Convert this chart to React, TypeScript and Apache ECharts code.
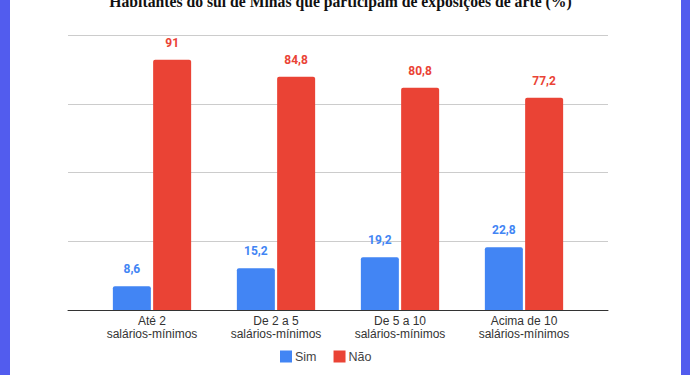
import React, { useEffect, useRef } from "react";
import * as echarts from "echarts";

const categories = ["Até 2\nsalários-mínimos", "De 2 a 5\nsalários-mínimos", "De 5 a 10\nsalários-mínimos", "Acima de 10\nsalários-mínimos"];
const simValues = [8.6, 15.2, 19.2, 22.8];
const naoValues = [91, 84.8, 80.8, 77.2];
const seriesNames = ["Sim", "Não"];
const titleText = "Habitantes do sul de Minas que participam de exposições de arte (%)";

const fmt = (v: number) => String(v).replace(".", ",");

export default function App() {
  const ref = useRef<HTMLDivElement>(null);
  useEffect(() => {
    if (!ref.current) return;
    const chart = echarts.init(ref.current, null, { renderer: "svg" });
    const labelFont = "Roboto, Arial, sans-serif";
    const axisFont = "Arial, 'Liberation Sans', sans-serif";
    chart.setOption({
      animation: false,
      backgroundColor: "#ffffff",
      title: {
        text: titleText,
        left: 335.5,
        textAlign: "center",
        top: -12,
        textStyle: { fontFamily: "'Liberation Serif', 'Times New Roman', serif", fontWeight: "bold", fontSize: 15.7, color: "#111" },
      },
      legend: {
        data: seriesNames,
        left: 275,
        top: 345,
        padding: 5,
        itemWidth: 12,
        itemHeight: 12,
        itemGap: 17,
        icon: "rect",
        textStyle: { fontFamily: axisFont, fontSize: 12.5, color: "#444", padding: [0, 0, 0, -2] },
      },
      graphic: [
        { type: "rect", left: 0, top: 0, shape: { width: 10, height: 375 }, style: { fill: "#525CEE" }, z: 100 },
        { type: "rect", left: 681, top: 0, shape: { width: 9, height: 375 }, style: { fill: "#525CEE" }, z: 100 },
      ],
      grid: [
        { left: 68, right: 82, top: 35, bottom: 65 },
        { left: 90, right: 104, top: 35, bottom: 65 },
      ],
      xAxis: [
        {
          gridIndex: 0,
          type: "category",
          data: categories,
          axisLine: { show: true, lineStyle: { color: "#333", width: 1 } },
          axisTick: { show: false },
          axisLabel: { show: false },
          splitLine: { show: false },
        },
        {
          gridIndex: 1,
          type: "category",
          data: categories,
          axisLine: { show: false },
          axisTick: { show: false },
          axisLabel: { fontFamily: axisFont, fontSize: 12, color: "#333", margin: 5, lineHeight: 12.5 },
        },
      ],
      yAxis: [
        {
          gridIndex: 0,
          type: "value",
          min: 0,
          max: 100,
          interval: 25,
          axisLabel: { show: false },
          axisLine: { show: false },
          axisTick: { show: false },
          splitLine: { lineStyle: { color: "#cccccc", width: 1 } },
        },
        {
          gridIndex: 1,
          type: "value",
          min: 0,
          max: 100,
          interval: 25,
          axisLabel: { show: false },
          axisLine: { show: false },
          axisTick: { show: false },
          splitLine: { show: false },
        },
      ],
      series: [
        {
          name: seriesNames[0],
          type: "bar",
          xAxisIndex: 1,
          yAxisIndex: 1,
          data: simValues,
          barWidth: 38,
          barGap: "6%",
          itemStyle: { color: "#4285F4", borderRadius: [2, 2, 0, 0] },
          label: { show: true, position: "top", distance: 11, formatter: (p: any) => fmt(p.value), color: "#4285F4", fontWeight: "bold", fontSize: 12, fontFamily: labelFont },
          z: 3,
        },
        {
          name: seriesNames[1],
          type: "bar",
          xAxisIndex: 1,
          yAxisIndex: 1,
          data: naoValues,
          barWidth: 38,
          barGap: "6%",
          itemStyle: { color: "#EA4335", borderRadius: [2, 2, 0, 0] },
          label: { show: true, position: "top", distance: 11, formatter: (p: any) => fmt(p.value), color: "#EA4335", fontWeight: "bold", fontSize: 12, fontFamily: labelFont },
          z: 3,
        },
      ],
    });
    return () => chart.dispose();
  }, []);
  return <div ref={ref} style={{ position: "absolute", left: 0, top: 0, width: 690, height: 375 }} />;
}
